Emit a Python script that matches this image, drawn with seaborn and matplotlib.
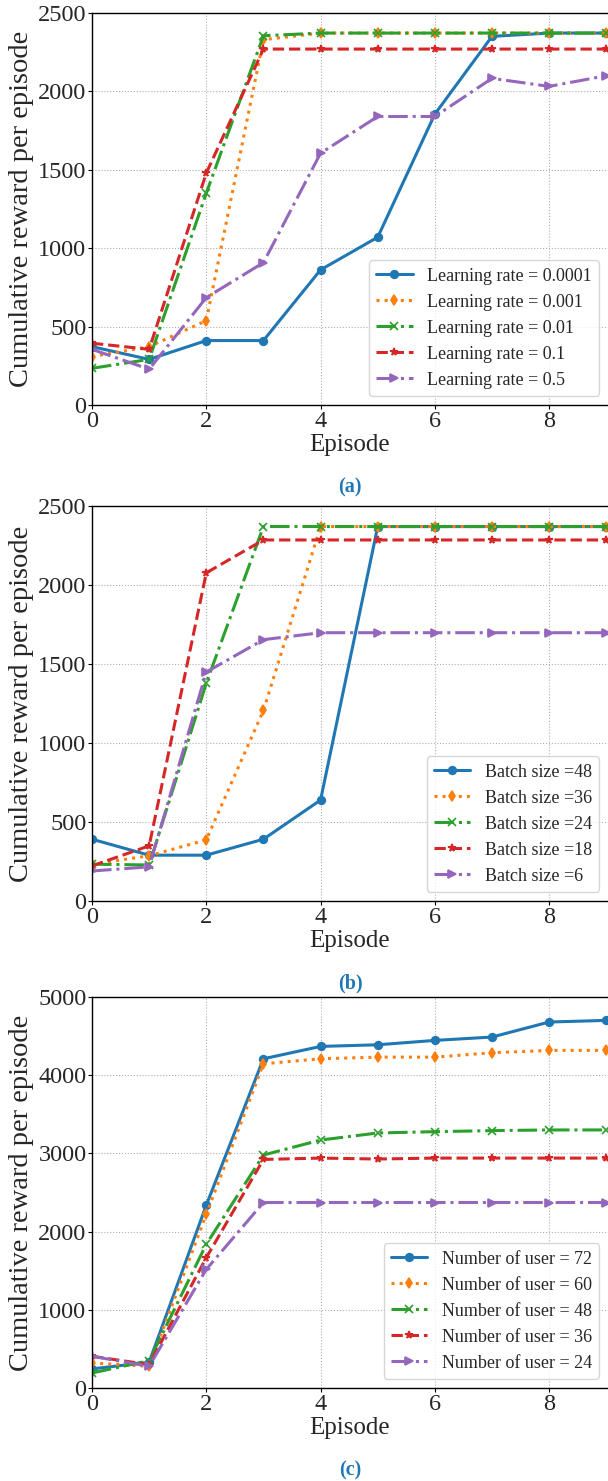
import numpy as np
import pandas as pd
import matplotlib
matplotlib.use("Agg")
import matplotlib.pyplot as plt
import seaborn as sns

episodes = [0, 1, 2, 3, 4, 5, 6, 7, 8, 9]

# Panel (a): learning rate
lr_labels = ["Learning rate = 0.0001", "Learning rate = 0.001", "Learning rate = 0.01",
             "Learning rate = 0.1", "Learning rate = 0.5"]
lr_0001 = [372, 291, 411, 411, 862, 1070, 1855, 2351, 2372, 2372]
lr_001 = [309, 372, 538, 2330, 2372, 2372, 2372, 2372, 2372, 2372]
lr_01 = [234, 291, 1351, 2355, 2372, 2372, 2372, 2372, 2372, 2372]
lr_1 = [394, 355, 1479, 2270, 2270, 2270, 2270, 2270, 2270, 2270]
lr_5 = [355, 228, 685, 908, 1606, 1840, 1840, 2083, 2032, 2100]

# Panel (b): batch size
bs_labels = ["Batch size =48", "Batch size =36", "Batch size =24", "Batch size =18", "Batch size =6"]
bs_48 = [391, 290, 290, 391, 639, 2370, 2370, 2370, 2370, 2370]
bs_36 = [233, 286, 387, 1206, 2370, 2370, 2370, 2370, 2370, 2370]
bs_24 = [233, 228, 1379, 2370, 2370, 2370, 2370, 2370, 2370, 2370]
bs_18 = [222, 349, 2077, 2285, 2285, 2285, 2285, 2285, 2285, 2285]
bs_6 = [190, 216, 1449, 1654, 1698, 1698, 1698, 1698, 1698, 1698]

# Panel (c): number of users
nu_labels = ["Number of user = 72", "Number of user = 60", "Number of user = 48",
             "Number of user = 36", "Number of user = 24"]
nu_72 = [244, 330, 2338, 4210, 4368, 4389, 4445, 4488, 4680, 4701]
nu_60 = [320, 278, 2222, 4146, 4210, 4231, 4231, 4287, 4317, 4317]
nu_48 = [192, 350, 1838, 2979, 3171, 3261, 3278, 3291, 3300, 3300]
nu_36 = [406, 299, 1667, 2923, 2940, 2928, 2940, 2940, 2940, 2940]
nu_24 = [406, 278, 1517, 2372, 2372, 2372, 2372, 2372, 2372, 2372]

panel_tags = ["(a)", "(b)", "(c)"]

sns.set_theme(style="whitegrid")
plt.rcParams["font.family"] = ["Liberation Serif", "DejaVu Serif"]
plt.rcParams["mathtext.fontset"] = "stix"

colors = sns.color_palette("tab10", 5)
styles = ["-", ":", "-.", "--", "-."]
markers = ["o", "d", "x", "*", ">"]

fig = plt.figure(figsize=(6.08, 14.81), dpi=100)
W, H = 608.0, 1481.0
left = 92 / W
width = 516 / W
boxes = [(13, 405), (506, 901), (997, 1388)]

panels = [
    (lr_labels, [lr_0001, lr_001, lr_01, lr_1, lr_5], 2500, 500),
    (bs_labels, [bs_48, bs_36, bs_24, bs_18, bs_6], 2500, 500),
    (nu_labels, [nu_72, nu_60, nu_48, nu_36, nu_24], 5000, 1000),
]

for i, ((labels, series, ymax, ystep), (top, bot)) in enumerate(zip(panels, boxes)):
    ax = fig.add_axes([left, 1 - bot / H, width, (bot - top) / H])
    for j, (lab, vals) in enumerate(zip(labels, series)):
        df = pd.DataFrame({"Episode": episodes, "Reward": vals})
        sns.lineplot(data=df, x="Episode", y="Reward", ax=ax, color=colors[j],
                     linestyle=styles[j], marker=markers[j], markersize=5.5,
                     markeredgewidth=1.2, markeredgecolor=colors[j],
                     linewidth=2.2, label=lab)
    ax.set_xlim(0, 9.03)
    ax.set_ylim(0, ymax)
    ax.set_xticks([0, 2, 4, 6, 8])
    ax.set_yticks(np.arange(0, ymax + 1, ystep))
    ax.tick_params(axis="both", labelsize=17.5, length=3, width=0.8, color="black",
                   pad=1, left=True, bottom=True)
    ax.set_xlabel("Episode", fontsize=18, labelpad=2)
    ax.set_ylabel("Cumulative reward per episode", fontsize=20.5, labelpad=3)
    ax.grid(True, linestyle=":", color="#b0b0b0", linewidth=0.8)
    for s in ["left", "bottom", "top"]:
        ax.spines[s].set_color("black")
        ax.spines[s].set_linewidth(1.0)
    ax.spines["right"].set_visible(False)
    ax.legend(loc="lower right", fontsize=13, frameon=True, fancybox=True,
              framealpha=0.8, edgecolor="#cccccc")
    fig.text((92 + 258) / W, 1 - (bot + 82) / H, panel_tags[i], ha="center",
             va="center", fontsize=14.5, fontweight="bold", color="#1f77b4")

fig.savefig("out.png", dpi=100)
